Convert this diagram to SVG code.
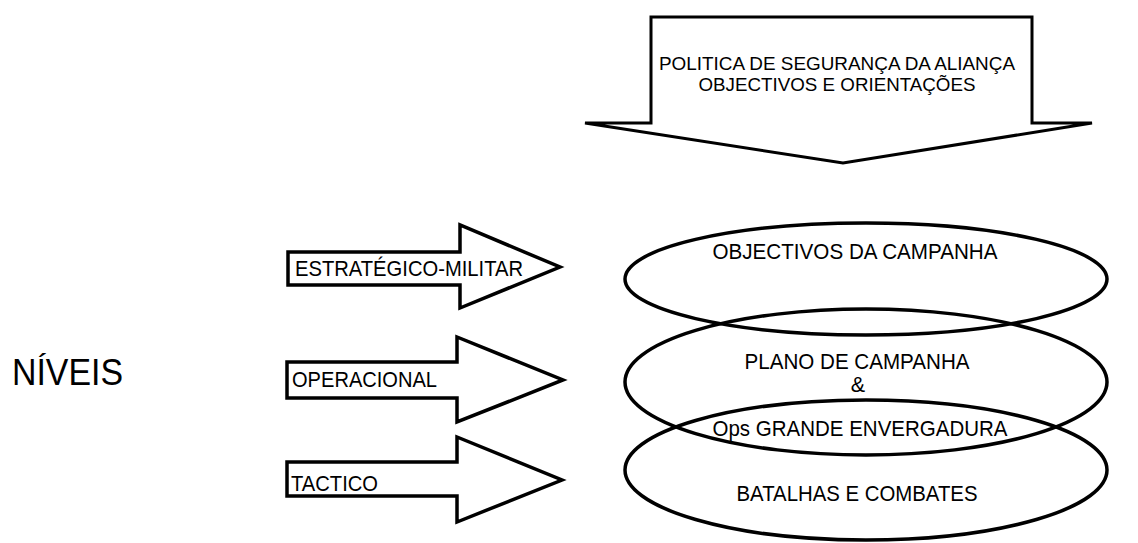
<svg xmlns="http://www.w3.org/2000/svg" width="1138" height="543" viewBox="0 0 1138 543">
<style>
.t{font-family:"Liberation Sans",Arial,sans-serif;fill:#000}
.m{font-size:21.5px}
.s{font-size:18px}
.b{font-size:36px}
.c{text-anchor:middle}
.arr{fill:#fff;stroke:#000;stroke-width:3.5;stroke-linejoin:miter}
.top{stroke-width:3}
.ell{fill:none;stroke:#000;stroke-width:3.5}
</style>
<rect width="1138" height="543" fill="#fff"/>
<g id="politica">
<polygon class="arr top" points="651,17 1032,17 1032,123 1092,123 843,163 585,123 651,123"/>
<text class="t s c" x="837" y="70" textLength="356" lengthAdjust="spacingAndGlyphs">POLITICA DE SEGURANÇA DA ALIANÇA</text>
<text class="t s c" x="837" y="91" textLength="277" lengthAdjust="spacingAndGlyphs">OBJECTIVOS E ORIENTAÇÕES</text>
</g>
<g id="niveis">
<text class="t b" x="12" y="385" textLength="111" lengthAdjust="spacingAndGlyphs">NÍVEIS</text>
</g>
<g id="estrategico">
<polygon class="arr" points="288,252 460,252 460,225 560,267 460,308 460,285 288,285"/>
<text class="t m" x="295" y="276" textLength="228" lengthAdjust="spacingAndGlyphs">ESTRATÉGICO-MILITAR</text>
</g>
<g id="operacional">
<polygon class="arr" points="287,362 457,362 457,337 563,380 457,422 457,398 287,398"/>
<text class="t m" x="292" y="387" textLength="145" lengthAdjust="spacingAndGlyphs">OPERACIONAL</text>
</g>
<g id="tactico">
<polygon class="arr" points="287,462 457,462 457,437 562,480 457,522 457,496 287,496"/>
<text class="t m" x="291" y="491" textLength="87" lengthAdjust="spacingAndGlyphs">TACTICO</text>
</g>
<g id="objectivos">
<ellipse class="ell" cx="866" cy="279" rx="241" ry="56"/>
<text class="t m c" x="855" y="259" textLength="285" lengthAdjust="spacingAndGlyphs">OBJECTIVOS DA CAMPANHA</text>
</g>
<g id="plano">
<ellipse class="ell" cx="866" cy="382" rx="241" ry="73"/>
<text class="t m c" x="857" y="369" textLength="225" lengthAdjust="spacingAndGlyphs">PLANO DE CAMPANHA</text>
<text class="t m c" x="858" y="392">&amp;</text>
<text class="t m c" x="860" y="436" textLength="295" lengthAdjust="spacingAndGlyphs">Ops GRANDE ENVERGADURA</text>
</g>
<g id="batalhas">
<ellipse class="ell" cx="866" cy="470" rx="241" ry="70"/>
<text class="t m c" x="857" y="501" textLength="241" lengthAdjust="spacingAndGlyphs">BATALHAS E COMBATES</text>
</g>
<g id="connectors"></g>
</svg>
